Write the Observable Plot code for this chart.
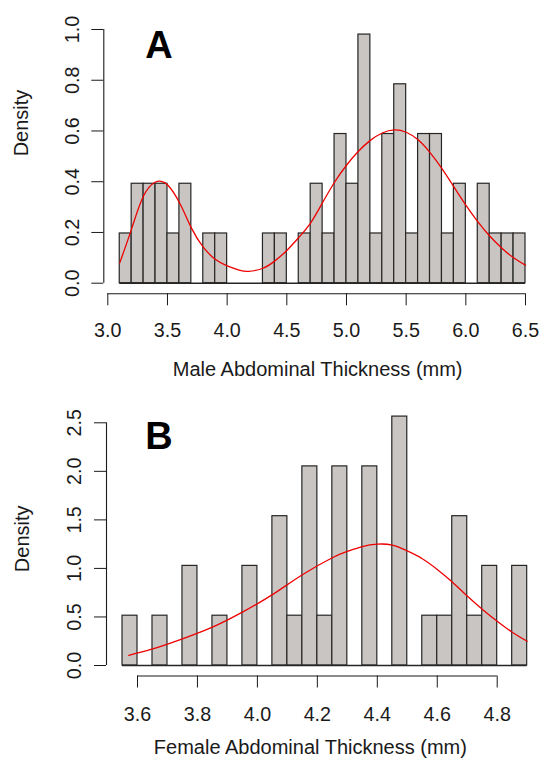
<!DOCTYPE html>
<html><head><meta charset="utf-8">
<script src="https://cdn.jsdelivr.net/npm/d3@7"></script>
<script src="https://cdn.jsdelivr.net/npm/@observablehq/plot@0.6"></script>
<style>
html,body{margin:0;padding:0;background:#fff;}
#chart{width:540px;}
#chart svg{display:block;}
</style></head><body><div id="chart"></div>
<script>
// ---------- Panel A: male ----------
const maleBinStart = [3.1,3.2,3.3,3.4,3.5,3.6,3.7,3.8,3.9,4.0,4.1,4.2,4.3,4.4,4.5,4.6,4.7,4.8,4.9,5.0,5.1,5.2,5.3,5.4,5.5,5.6,5.7,5.8,5.9,6.0,6.1,6.2,6.3,6.4];
const maleBinWidth = 0.1;
const maleDensity = [0.196,0.392,0.392,0.392,0.196,0.392,0,0.196,0.196,0,0,0,0.196,0.196,0,0.196,0.392,0.196,0.588,0.392,0.980,0.196,0.588,0.784,0.196,0.588,0.588,0.196,0.392,0,0.392,0.196,0.196,0.196];
const maleCurveX = [3.1,3.2,3.3,3.4,3.45,3.5,3.6,3.7,3.8,3.9,4.0,4.1,4.18,4.3,4.4,4.5,4.6,4.7,4.8,4.9,5.0,5.1,5.2,5.3,5.4,5.5,5.6,5.7,5.8,5.9,6.0,6.1,6.2,6.3,6.4,6.5];
const maleCurveD = [0.08,0.215,0.345,0.399,0.401,0.388,0.318,0.218,0.142,0.094,0.068,0.052,0.047,0.059,0.088,0.129,0.180,0.238,0.318,0.398,0.465,0.520,0.563,0.592,0.604,0.595,0.565,0.515,0.452,0.380,0.308,0.243,0.186,0.139,0.100,0.071];
const maleXTicks = [3.0,3.5,4.0,4.5,5.0,5.5,6.0,6.5];
const maleYTicks = [0.0,0.2,0.4,0.6,0.8,1.0];

// ---------- Panel B: female ----------
const femaleBinStart = [3.55,3.60,3.65,3.70,3.75,3.80,3.85,3.90,3.95,4.00,4.05,4.10,4.15,4.20,4.25,4.30,4.35,4.40,4.45,4.50,4.55,4.60,4.65,4.70,4.75,4.80,4.85];
const femaleBinWidth = 0.05;
const femaleDensity = [0.513,0,0.513,0,1.026,0,0.513,0,1.026,0,1.538,0.513,2.051,0.513,2.051,0,2.051,0,2.564,0,0.513,0.513,1.538,0.513,1.026,0,1.026];
const femaleCurveX = [3.571,3.65,3.75,3.85,3.95,4.05,4.15,4.25,4.3,4.35,4.4,4.45,4.5,4.55,4.6,4.65,4.7,4.75,4.8,4.85,4.9];
const femaleCurveD = [0.105,0.17,0.275,0.395,0.55,0.73,0.935,1.11,1.175,1.225,1.25,1.24,1.18,1.10,0.99,0.86,0.715,0.58,0.455,0.343,0.25];
const femaleXTicks = [3.6,3.8,4.0,4.2,4.4,4.6,4.8];
const femaleYTicks = [0.0,0.5,1.0,1.5,2.0,2.5];

const FONT = "'Liberation Sans', Arial, Helvetica, sans-serif";
const BAR = "#c9c5c2";
const EDGE = "#262626";
const INK = "#1a1a1a";

function panel(o) {
  const bars = o.binStart.map((s, i) => ({x1: s, x2: s + o.binWidth, d: o.density[i]}));
  const curve = o.curveX.map((x, i) => ({x, d: o.curveD[i]}));
  const lastEdge = o.binStart[o.binStart.length - 1] + o.binWidth;
  return Plot.plot({
    width: 540, height: o.height,
    marginLeft: o.ml, marginRight: o.mr, marginTop: o.mt, marginBottom: o.mb,
    style: {fontFamily: FONT, fontSize: "19.5px", background: "white", color: INK, overflow: "visible"},
    x: {domain: o.xDomain},
    y: {domain: o.yDomain},
    marks: [
      Plot.rectY(bars, {x1: "x1", x2: "x2", y: "d", fill: BAR, stroke: EDGE, strokeWidth: 1.2}),
      Plot.ruleY([0], {x1: o.binStart[0], x2: lastEdge, stroke: EDGE, strokeWidth: 1.6}),
      Plot.line(curve, {x: "x", y: "d", stroke: "#ee0000", strokeWidth: 1.3, curve: "natural"}),
      // x axis (offset below the plot, R style)
      Plot.ruleY([0], {x1: o.xTicks[0], x2: o.xTicks[o.xTicks.length - 1], dy: o.xOff, stroke: INK, strokeWidth: 1.1}),
      Plot.axisX(o.xTicks, {tickSize: 12, tickPadding: o.xPad, dy: o.xOff, tickFormat: d3.format(".1f"), fontSize: 19.7, label: null, stroke: INK, fill: INK}),
      // y axis
      Plot.ruleX([o.xDomain[0]], {y1: o.yTicks[0], y2: o.yTicks[o.yTicks.length - 1], dx: o.yOff, stroke: INK, strokeWidth: 1.1}),
      Plot.axisY(o.yTicks, {tickSize: 12, tickPadding: o.yPad, dx: o.yOff, tickRotate: -90, tickFormat: d3.format(".1f"), fontSize: 19.7, label: null, stroke: INK, fill: INK}),
      Plot.text([o.xTitle], {frameAnchor: "bottom", dy: o.xTitleDy, dx: o.xTitleDx, lineAnchor: "bottom", fontSize: 20, fill: INK}),
      Plot.text(["Density"], {frameAnchor: "left", dx: o.yTitleDx, dy: o.yTitleDy, rotate: -90, fontSize: 20, fill: INK}),
      Plot.text([o.tag], {frameAnchor: "top-left", dx: o.tagDx, dy: o.tagDy, lineAnchor: "bottom", textAnchor: "middle", fontSize: 38, fontWeight: "bold", fill: "#000"})
    ]
  });
}

const chart = document.getElementById("chart");
chart.append(panel({
  height: 390, ml: 107.3, mr: 15, mt: 29, mb: 107.3,
  binStart: maleBinStart, binWidth: maleBinWidth, density: maleDensity,
  curveX: maleCurveX, curveD: maleCurveD,
  xDomain: [3, 6.5], yDomain: [0, 1], xTicks: maleXTicks, yTicks: maleYTicks,
  xOff: 10.6, xPad: 17.5, yOff: -4, yPad: 13,
  xTitle: "Male Abdominal Thickness (mm)", xTitleDy: 92.5, xTitleDx: 1,
  yTitleDx: -86.3, yTitleDy: 0,
  tag: "A", tagDx: 51.2, tagDy: 28
}));
chart.append(panel({
  height: 368, ml: 137, mr: 43.3, mt: 32.3, mb: 93,
  binStart: femaleBinStart, binWidth: femaleBinWidth, density: femaleDensity,
  curveX: femaleCurveX, curveD: femaleCurveD,
  xDomain: [3.6, 4.8], yDomain: [0, 2.5], xTicks: femaleXTicks, yTicks: femaleYTicks,
  xOff: 10.5, xPad: 18.6, yOff: -31, yPad: 14,
  xTitle: "Female Abdominal Thickness (mm)", xTitleDy: 88, xTitleDx: -7,
  yTitleDx: -115, yTitleDy: 28,
  tag: "B", tagDx: 21.5, tagDy: 26
}));
</script></body></html>
